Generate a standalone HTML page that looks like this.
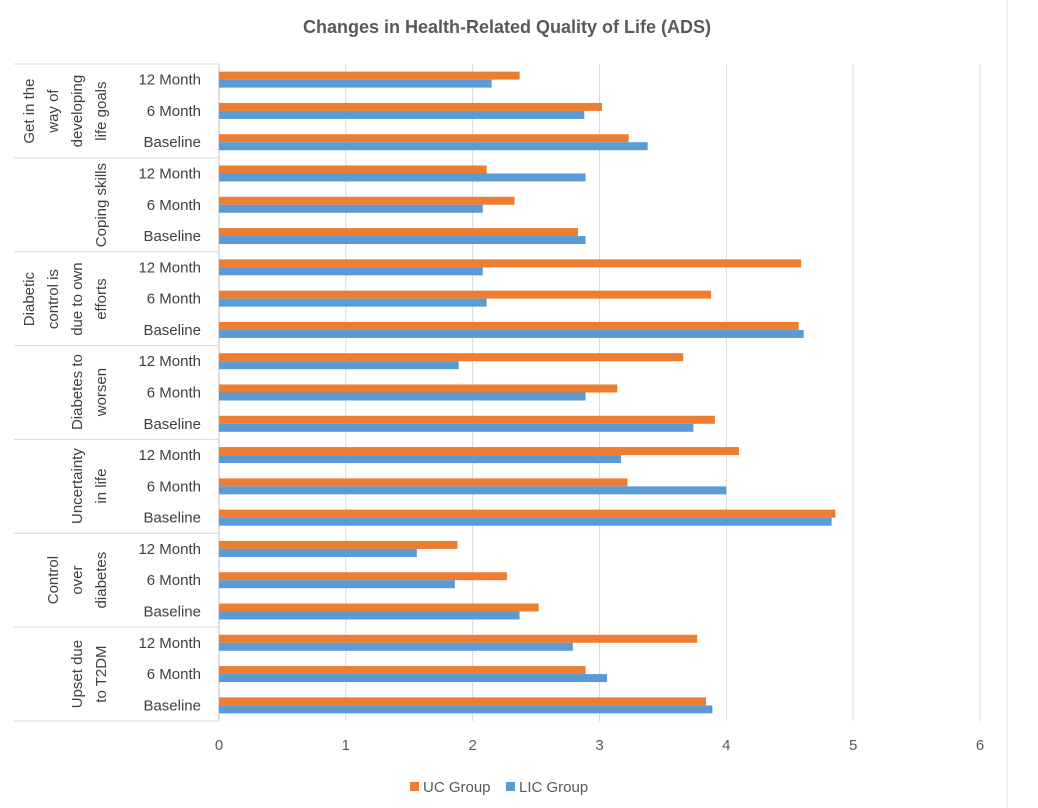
<!DOCTYPE html>
<html><head><meta charset="utf-8"><style>
body{margin:0;background:#fff;font-family:"Liberation Sans",sans-serif;}
#wrap{position:relative;width:1038px;height:808px;overflow:hidden;}
.glab{position:absolute;width:94px;height:100px;display:flex;flex-direction:column;justify-content:flex-end;align-items:center;text-align:center;font-size:15px;color:#404040;line-height:24px;transform-origin:0 0;}
</style></head><body>
<div id="wrap">
<svg id="chart" width="1038" height="808"></svg>
</div>
<script>
const groups=["Get in the way of developing life goals","Coping skills","Diabetic control is due to own efforts","Diabetes to worsen","Uncertainty in life","Control over diabetes","Upset due to T2DM"];
const groupLines=[["Get in the","way of","developing","life goals"],["Coping skills"],["Diabetic","control is","due to own","efforts"],["Diabetes to","worsen"],["Uncertainty","in life"],["Control","over","diabetes"],["Upset due","to T2DM"]];
const periods=["12 Month","6 Month","Baseline"];
const ucValues=[2.37,3.02,3.23, 2.11,2.33,2.83, 4.59,3.88,4.57, 3.66,3.14,3.91, 4.10,3.22,4.86, 1.88,2.27,2.52, 3.77,2.89,3.84];
const licValues=[2.15,2.88,3.38, 2.89,2.08,2.89, 2.08,2.11,4.61, 1.89,2.89,3.74, 3.17,4.00,4.83, 1.56,1.86,2.37, 2.79,3.06,3.89];
const xTicks=[0,1,2,3,4,5,6];
const NS="http://www.w3.org/2000/svg";
const svg=document.getElementById('chart');
const x0=219,x1=980,yTop=64,yBot=721;
const xs=v=>x0+(v/6)*(x1-x0);
const rowH=(yBot-yTop)/ucValues.length;
const rowY=i=>yTop+rowH*(i+0.5);
function mk(t,a,p){const e=document.createElementNS(NS,t);for(const k in a)e.setAttribute(k,a[k]);(p||svg).appendChild(e);return e;}
let t=mk('text',{x:507,y:33,'text-anchor':'middle','font-size':18,'font-weight':'bold',fill:'#595959'});t.textContent="Changes in Health-Related Quality of Life (ADS)";


mk('line',{x1:1007,y1:0,x2:1007,y2:808,stroke:'#e6e6e6'});
xTicks.forEach(v=>{
 const g=mk('line',{x1:xs(v),y1:yTop,x2:xs(v),y2:yBot,stroke:v==0?'#bfbfbf':'#d9d9d9'});
 
 
 const l=mk('text',{x:xs(v),y:750,'text-anchor':'middle','font-size':15,fill:'#595959'});l.textContent=v;
 
 
});
for(let gi=0;gi<=groups.length;gi++){
 const y=yTop+rowH*3*gi;
 const s=mk('line',{x1:14,y1:y,x2:x0,y2:y,stroke:'#d9d9d9'});
 
 
}
ucValues.forEach((v,i)=>{
 const cy=rowY(i);
 const l=mk('text',{x:201,y:cy+5,'text-anchor':'end','font-size':15,fill:'#404040'});l.textContent=periods[i%3];
 
 
 const b=mk('rect',{x:x0,y:cy-8,width:xs(v)-x0,height:8,fill:'#ED7D31'});
 
 
 const b2=mk('rect',{x:x0,y:cy,width:xs(licValues[i])-x0,height:8,fill:'#5B9BD5'});
 
 
});
const wrap=document.getElementById('wrap');
groups.forEach((g,gi)=>{
 const d=document.createElement('div');
 d.className='glab';
 
 
 const gy0=yTop+rowH*3*gi, gh=rowH*3;
 d.style.width=gh+'px';
 d.style.left='14px';
 d.style.top=(gy0+gh)+'px';
 d.style.transform='rotate(-90deg)';
 groupLines[gi].forEach(s=>{const sp=document.createElement('div');sp.textContent=s;d.appendChild(sp);});
 wrap.appendChild(d);
});
const lg=[["UC Group","#ED7D31",410],["LIC Group","#5B9BD5",506]];
lg.forEach(([n,c,x])=>{
 const r=mk('rect',{x:x,y:782,width:9,height:9,fill:c});
 
 
 const l=mk('text',{x:x+13,y:792,'font-size':15,fill:'#595959'});l.textContent=n;
 
 
});
</script>
</body></html>
